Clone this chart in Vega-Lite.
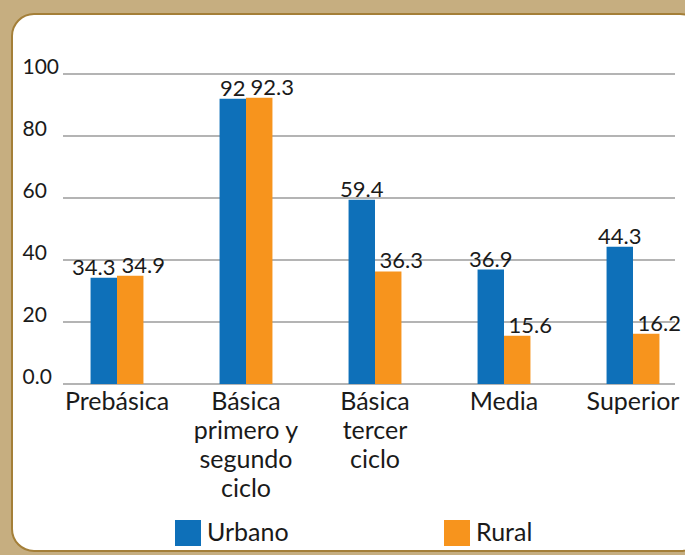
{
  "$schema": "https://vega.github.io/schema/vega-lite/v6.json",
  "width": 690,
  "height": 537,
  "autosize": {"type": "none"},
  "padding": {"left": 12, "top": 14, "right": -17, "bottom": 4},
  "background": "#c6ae80",
  "config": {
    "font": "Lato",
    "view": {"fill": "white", "stroke": "#a47f38", "strokeWidth": 2, "cornerRadius": 22}
  },
  "datasets": {
    "bars": [
      {"cat": "Prebásica", "serie": "Urbano", "value": 34.3},
      {"cat": "Prebásica", "serie": "Rural", "value": 34.9},
      {"cat": "Básica primero y segundo ciclo", "serie": "Urbano", "value": 92},
      {"cat": "Básica primero y segundo ciclo", "serie": "Rural", "value": 92.3},
      {"cat": "Básica tercer ciclo", "serie": "Urbano", "value": 59.4},
      {"cat": "Básica tercer ciclo", "serie": "Rural", "value": 36.3},
      {"cat": "Media", "serie": "Urbano", "value": 36.9},
      {"cat": "Media", "serie": "Rural", "value": 15.6},
      {"cat": "Superior", "serie": "Urbano", "value": 44.3},
      {"cat": "Superior", "serie": "Rural", "value": 16.2}
    ],
    "grid": [
      {"value": 0}, {"value": 20}, {"value": 40}, {"value": 60}, {"value": 80}, {"value": 100}
    ]
  },
  "layer": [
    {
      "data": {"name": "grid"},
      "mark": {"type": "rule", "color": "#b4b4b4", "strokeWidth": 2},
      "encoding": {
        "y": {"field": "value", "type": "quantitative"},
        "x": {"datum": "Prebásica", "bandPosition": -0.521},
        "x2": {"datum": "Superior", "bandPosition": 1.294}
      }
    },
    {
      "data": {"name": "bars"},
      "mark": {"type": "bar"},
      "encoding": {
        "x": {
          "field": "cat",
          "type": "nominal",
          "sort": null,
          "scale": {
            "domain": ["Prebásica", "Básica primero y segundo ciclo", "Básica tercer ciclo", "Media", "Superior"],
            "range": [40.5, 685.5],
            "paddingInner": 0.59,
            "paddingOuter": 0.295
          },
          "axis": {
            "orient": "bottom",
            "offset": -167,
            "bandPosition": 0.5,
            "title": null,
            "domain": false,
            "ticks": false,
            "grid": false,
            "labelAngle": 0,
            "labelAlign": "center",
            "labelPadding": 5,
            "labelBaseline": "top",
            "labelFontSize": 25,
            "labelLineHeight": 29,
            "labelColor": "#1a1a1a",
            "labelLimit": 300,
            "labelExpr": "datum.label == 'Básica primero y segundo ciclo' ? ['Básica', 'primero y', 'segundo', 'ciclo'] : datum.label == 'Básica tercer ciclo' ? ['Básica', 'tercer', 'ciclo'] : datum.label"
          }
        },
        "xOffset": {"field": "serie", "type": "nominal", "scale": {"domain": ["Urbano", "Rural"]}},
        "y": {
          "field": "value",
          "type": "quantitative",
          "scale": {"domain": [-53.87, 119.35], "nice": false, "zero": false},
          "axis": {
            "values": [0, 20, 40, 60, 80, 100],
            "title": null,
            "grid": false,
            "domain": false,
            "ticks": false,
            "offset": -10,
            "labelAlign": "left",
            "labelPadding": 0,
            "labelBaseline": "alphabetic",
            "labelFontSize": 21,
            "labelColor": "#1a1a1a",
            "labelExpr": "datum.value == 0 ? '0.0' : datum.label"
          }
        },
        "color": {
          "field": "serie",
          "type": "nominal",
          "scale": {"domain": ["Urbano", "Rural"], "range": ["#0e70b9", "#f7941d"]},
          "legend": {
            "orient": "none",
            "legendX": 163,
            "legendY": 506,
            "direction": "horizontal",
            "title": null,
            "symbolType": "square",
            "symbolSize": 676,
            "symbolStrokeWidth": 0,
            "labelFontSize": 25,
            "labelOffset": 6,
            "labelColor": "#1a1a1a",
            "columnPadding": 155
          }
        }
      }
    },
    {
      "data": {"name": "bars"},
      "transform": [{"filter": "datum.serie == 'Urbano' && datum.cat != 'Prebásica'"}],
      "mark": {"type": "text", "align": "center", "baseline": "alphabetic", "dy": -3, "fontSize": 22, "color": "#1a1a1a"},
      "encoding": {
        "x": {"field": "cat", "type": "nominal"},
        "xOffset": {"field": "serie", "type": "nominal"},
        "y": {"field": "value", "type": "quantitative"},
        "text": {"field": "value", "type": "quantitative", "format": ".1~f"}
      }
    },
    {
      "data": {"name": "bars"},
      "transform": [{"filter": "datum.serie == 'Urbano' && datum.cat == 'Prebásica'"}],
      "mark": {"type": "text", "align": "center", "baseline": "alphabetic", "dy": -3, "dx": -10, "fontSize": 22, "color": "#1a1a1a"},
      "encoding": {
        "x": {"field": "cat", "type": "nominal"},
        "xOffset": {"field": "serie", "type": "nominal"},
        "y": {"field": "value", "type": "quantitative"},
        "text": {"field": "value", "type": "quantitative", "format": ".1~f"}
      }
    },
    {
      "data": {"name": "bars"},
      "transform": [{"filter": "datum.serie == 'Rural'"}],
      "mark": {"type": "text", "align": "center", "baseline": "alphabetic", "dy": -3, "dx": 13, "fontSize": 22, "color": "#1a1a1a"},
      "encoding": {
        "x": {"field": "cat", "type": "nominal"},
        "xOffset": {"field": "serie", "type": "nominal"},
        "y": {"field": "value", "type": "quantitative"},
        "text": {"field": "value", "type": "quantitative", "format": ".1~f"}
      }
    }
  ]
}
